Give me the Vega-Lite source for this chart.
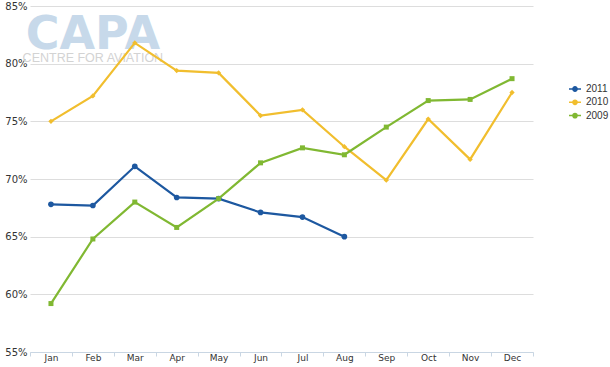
{
  "$schema": "https://vega.github.io/schema/vega-lite/v6.json",
  "width": 503,
  "height": 346,
  "autosize": {"type": "none"},
  "padding": {"left": 30, "top": 6, "right": 77, "bottom": 15},
  "background": "white",
  "config": {
    "view": {"stroke": null},
    "font": "DejaVu Sans"
  },
  "data": {
    "values": [
      {"month": "Jan", "year": "2011", "load": 67.8},
      {"month": "Feb", "year": "2011", "load": 67.7},
      {"month": "Mar", "year": "2011", "load": 71.1},
      {"month": "Apr", "year": "2011", "load": 68.4},
      {"month": "May", "year": "2011", "load": 68.3},
      {"month": "Jun", "year": "2011", "load": 67.1},
      {"month": "Jul", "year": "2011", "load": 66.7},
      {"month": "Aug", "year": "2011", "load": 65.0},
      {"month": "Jan", "year": "2010", "load": 75.0},
      {"month": "Feb", "year": "2010", "load": 77.2},
      {"month": "Mar", "year": "2010", "load": 81.8},
      {"month": "Apr", "year": "2010", "load": 79.4},
      {"month": "May", "year": "2010", "load": 79.2},
      {"month": "Jun", "year": "2010", "load": 75.5},
      {"month": "Jul", "year": "2010", "load": 76.0},
      {"month": "Aug", "year": "2010", "load": 72.8},
      {"month": "Sep", "year": "2010", "load": 69.9},
      {"month": "Oct", "year": "2010", "load": 75.2},
      {"month": "Nov", "year": "2010", "load": 71.7},
      {"month": "Dec", "year": "2010", "load": 77.5},
      {"month": "Jan", "year": "2009", "load": 59.2},
      {"month": "Feb", "year": "2009", "load": 64.8},
      {"month": "Mar", "year": "2009", "load": 68.0},
      {"month": "Apr", "year": "2009", "load": 65.8},
      {"month": "May", "year": "2009", "load": 68.3},
      {"month": "Jun", "year": "2009", "load": 71.4},
      {"month": "Jul", "year": "2009", "load": 72.7},
      {"month": "Aug", "year": "2009", "load": 72.1},
      {"month": "Sep", "year": "2009", "load": 74.5},
      {"month": "Oct", "year": "2009", "load": 76.8},
      {"month": "Nov", "year": "2009", "load": 76.9},
      {"month": "Dec", "year": "2009", "load": 78.7}
    ]
  },
  "encoding": {
    "x": {
      "field": "month",
      "type": "ordinal",
      "sort": ["Jan","Feb","Mar","Apr","May","Jun","Jul","Aug","Sep","Oct","Nov","Dec"],
      "scale": {"paddingInner": 0, "paddingOuter": 0},
      "axis": {
        "title": null,
        "labelAngle": 0,
        "labelFontSize": 9,
        "labelColor": "#333333",
        "labelPadding": -3,
        "domainColor": "#c9d6e3",
        "tickColor": "#c9d6e3",
        "tickBand": "extent",
        "tickSize": 4,
        "grid": false
      }
    },
    "y": {
      "field": "load",
      "type": "quantitative",
      "scale": {"domain": [55, 85], "nice": false, "zero": false},
      "axis": {
        "title": null,
        "values": [55, 60, 65, 70, 75, 80, 85],
        "labelExpr": "datum.value + '%'",
        "labelFontSize": 10,
        "labelColor": "#333333",
        "labelPadding": 3,
        "domain": false,
        "ticks": false,
        "grid": true,
        "gridColor": "#dddddd",
        "gridWidth": 1
      }
    }
  },
  "layer": [
    {
      "transform": [{"filter": "datum.month == 'Jan' && datum.year == '2011'"}],
      "mark": {"type": "text", "text": "CAPA", "font": "DejaVu Sans", "fontWeight": "bold", "fontSize": 46, "letterSpacing": 3, "color": "#c7d9ea", "baseline": "middle", "align": "center"},
      "encoding": {"x": {"datum": "Feb"}, "y": {"datum": 82.5}}
    },
    {
      "transform": [{"filter": "datum.month == 'Jan' && datum.year == '2011'"}],
      "mark": {"type": "text", "text": "CENTRE FOR AVIATION", "font": "Liberation Sans", "fontSize": 12.5, "color": "#d3d3d3", "baseline": "middle", "align": "center"},
      "encoding": {"x": {"datum": "Feb"}, "y": {"datum": 80.5}}
    },
    {
      "mark": {"type": "line", "strokeWidth": 2.2},
      "encoding": {
        "color": {
          "field": "year",
          "type": "nominal",
          "scale": {"domain": ["2011", "2010", "2009"], "range": ["#1d58a0", "#f1be2e", "#80b832"]},
          "legend": {
            "title": null,
            "orient": "none",
            "legendX": 538,
            "legendY": 76,
            "labelFont": "Liberation Sans",
            "labelFontSize": 10,
            "labelColor": "#333333",
            "symbolType": "M -1 0 L 1 0 M -0.36 0 A 0.36 0.36 0 1 1 0.36 0 A 0.36 0.36 0 1 1 -0.36 0 Z",
            "symbolSize": 144,
            "symbolStrokeWidth": 1.5,
            "rowPadding": 0.3,
            "labelOffset": 4,
            "encode": {
              "symbols": {"update": {
                "stroke": {"scale": "color", "field": "value"},
                "fill": {"scale": "color", "field": "value"}
              }}
            }
          }
        }
      }
    },
    {
      "transform": [{"filter": "datum.year == '2011'"}],
      "mark": {"type": "point", "filled": true, "opacity": 1, "shape": "circle", "size": 32},
      "encoding": {"color": {"field": "year", "type": "nominal", "legend": null}}
    },
    {
      "transform": [{"filter": "datum.year == '2010'"}],
      "mark": {"type": "point", "filled": true, "opacity": 1, "shape": "diamond", "size": 28},
      "encoding": {"color": {"field": "year", "type": "nominal", "legend": null}}
    },
    {
      "transform": [{"filter": "datum.year == '2009'"}],
      "mark": {"type": "point", "filled": true, "opacity": 1, "shape": "square", "size": 25},
      "encoding": {"color": {"field": "year", "type": "nominal", "legend": null}}
    }
  ]
}
